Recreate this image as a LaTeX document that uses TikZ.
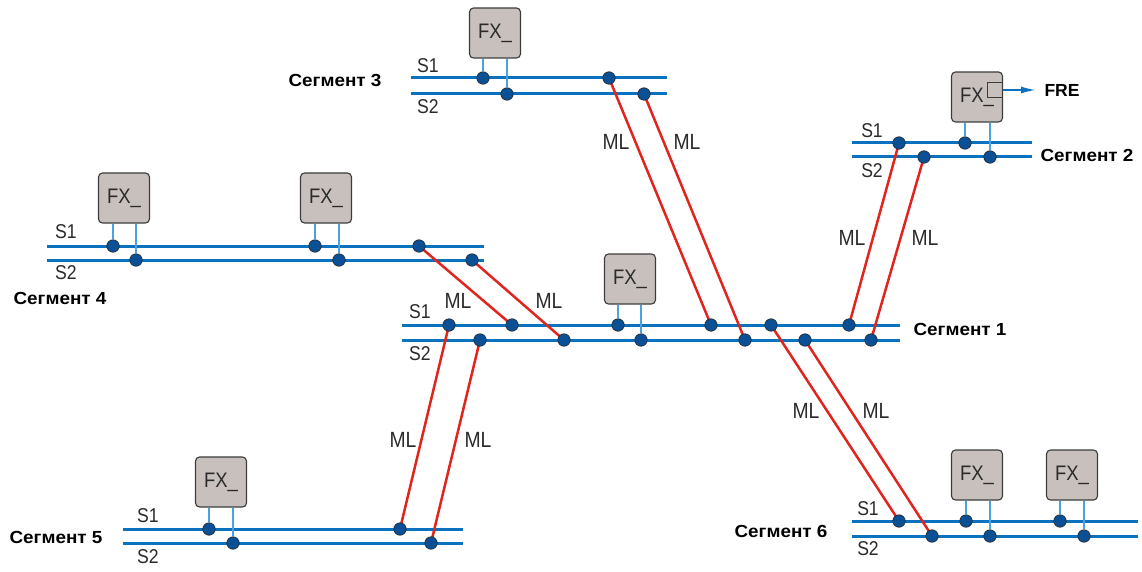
\documentclass[tikz,border=0pt]{standalone}
\usepackage{fontspec}
\setmainfont{Liberation Sans}
\newfontfamily\lightsans[FakeStretch=0.88]{Liberation Sans}
\newfontfamily\segfont[FakeStretch=1.08]{Liberation Sans Bold}
\usetikzlibrary{arrows.meta}
\definecolor{busblue}{HTML}{0A72BE}
\definecolor{dotblue}{HTML}{0B4F94}
\definecolor{linkblue}{HTML}{4AA3DC}
\definecolor{mlred}{HTML}{E0251E}
\definecolor{boxgray}{HTML}{C8C0BD}
\definecolor{boxedge}{HTML}{3C3C3C}
\definecolor{txtgray}{HTML}{2A2A2A}
\tikzset{
  bus/.style={busblue, line width=3pt},
  tap/.style={circle, fill=dotblue, draw=black!85, line width=0.6pt, inner sep=0pt, minimum size=12.5pt},
  fxbox/.style={draw=boxedge, fill=boxgray, rounded corners=4pt, line width=1.1pt, minimum width=51pt, minimum height=50pt, inner sep=0pt, font=\lightsans\fontsize{21}{21}\selectfont, text=txtgray},
  link/.style={linkblue, line width=1.2pt},
  mlline/.style={mlred, line width=2.5pt},
  lbl/.style={inner sep=0pt, font=\lightsans\fontsize{20}{20}\selectfont, text=txtgray},
  mllbl/.style={inner sep=0pt, font=\lightsans\fontsize{22}{22}\selectfont, text=txtgray},
  seglbl/.style={inner sep=0pt, font=\segfont\fontsize{17.5}{17.5}\selectfont},
}
\begin{document}
\begin{tikzpicture}[x=1pt,y=-1pt]
\useasboundingbox (0,0) rectangle (1142,572);

% ---------- bus end coordinates ----------
\coordinate (b3a1) at (411,78);  \coordinate (b3a2) at (667,78);
\coordinate (b3b1) at (411,94);  \coordinate (b3b2) at (667,94);
\coordinate (b2a1) at (852,143); \coordinate (b2a2) at (1032,143);
\coordinate (b2b1) at (852,157); \coordinate (b2b2) at (1032,157);
\coordinate (b4a1) at (47,246);  \coordinate (b4a2) at (484,246);
\coordinate (b4b1) at (47,260);  \coordinate (b4b2) at (484,260);
\coordinate (b1a1) at (402,325); \coordinate (b1a2) at (900,325);
\coordinate (b1b1) at (402,340); \coordinate (b1b2) at (900,340);
\coordinate (b5a1) at (123,529); \coordinate (b5a2) at (463,529);
\coordinate (b5b1) at (123,543); \coordinate (b5b2) at (463,543);
\coordinate (b6a1) at (852,521); \coordinate (b6a2) at (1138,521);
\coordinate (b6b1) at (852,536); \coordinate (b6b2) at (1138,536);

\foreach \s in {3,2,4,1,5,6}{
  \draw[bus] (b\s a1) -- (b\s a2);
  \draw[bus] (b\s b1) -- (b\s b2);
}

% ---------- tap positions ----------
\coordinate (d3a1) at (483,78);  \coordinate (d3a2) at (609,78);
\coordinate (d3b1) at (507,94);  \coordinate (d3b2) at (644,94);
\coordinate (d2a1) at (899,143); \coordinate (d2a2) at (965,143);
\coordinate (d2b1) at (924,157); \coordinate (d2b2) at (990,157);
\coordinate (d4a1) at (113,246); \coordinate (d4a2) at (315,246); \coordinate (d4a3) at (419,246);
\coordinate (d4b1) at (136,260); \coordinate (d4b2) at (339,260); \coordinate (d4b3) at (472,260);
\coordinate (d1a1) at (449,325); \coordinate (d1a2) at (512,325); \coordinate (d1a3) at (618,325);
\coordinate (d1a4) at (711,325); \coordinate (d1a5) at (771,325); \coordinate (d1a6) at (849,325);
\coordinate (d1b1) at (480,340); \coordinate (d1b2) at (564,340); \coordinate (d1b3) at (641,340);
\coordinate (d1b4) at (745,340); \coordinate (d1b5) at (805,340); \coordinate (d1b6) at (871,340);
\coordinate (d5a1) at (209,529); \coordinate (d5a2) at (400,529);
\coordinate (d5b1) at (233,543); \coordinate (d5b2) at (431,543);
\coordinate (d6a1) at (899,521); \coordinate (d6a2) at (966,521); \coordinate (d6a3) at (1060,521);
\coordinate (d6b1) at (932,536); \coordinate (d6b2) at (990,536); \coordinate (d6b3) at (1084,536);

% ---------- ML links ----------
\draw[mlline] (d3a2) -- (d1a4);
\draw[mlline] (d3b2) -- (d1b4);
\draw[mlline] (d2a1) -- (d1a6);
\draw[mlline] (d2b1) -- (d1b6);
\draw[mlline] (d4a3) -- (d1a2);
\draw[mlline] (d4b3) -- (d1b2);
\draw[mlline] (d1a1) -- (d5a2);
\draw[mlline] (d1b1) -- (d5b2);
\draw[mlline] (d1a5) -- (d6a1);
\draw[mlline] (d1b5) -- (d6b1);

% ---------- tap dots on top ----------
\foreach \d in {d3a1,d3a2,d3b1,d3b2,d2a1,d2a2,d2b1,d2b2,d4a1,d4a2,d4a3,d4b1,d4b2,d4b3,
                d1a1,d1a2,d1a3,d1a4,d1a5,d1a6,d1b1,d1b2,d1b3,d1b4,d1b5,d1b6,
                d5a1,d5a2,d5b1,d5b2,d6a1,d6a2,d6a3,d6b1,d6b2,d6b3}{
  \node[tap] (t\d) at (\d) {};
}

% ---------- FX boxes ----------
\node[fxbox] (fx3) at (495,33) {FX\_};
\node[fxbox] (fx2) at (977,97) {FX\_};
\node[fxbox] (fx4a) at (124,198) {FX\_};
\node[fxbox] (fx4b) at (326,198) {FX\_};
\node[fxbox] (fx1) at (630,279) {FX\_};
\node[fxbox] (fx5) at (221,482) {FX\_};
\node[fxbox] (fx6a) at (977,475) {FX\_};
\node[fxbox] (fx6b) at (1072,475) {FX\_};

\foreach \b/\p/\q in {fx3/d3a1/d3b1, fx2/d2a2/d2b2, fx4a/d4a1/d4b1, fx4b/d4a2/d4b2, fx1/d1a3/d1b3, fx5/d5a1/d5b1, fx6a/d6a2/d6b2, fx6b/d6a3/d6b3}{
  \draw[link] (\b.south -| \p) -- (t\p.north);
  \draw[link] (\b.south -| \q) -- (t\q.north);
}

% FRE output
\node[draw=boxedge, line width=1pt, minimum size=15pt, inner sep=0pt, anchor=north east] (sq) at (1003,82) {};
\node[inner sep=0pt, font=\bfseries\fontsize{17.5}{17.5}\selectfont] (fre) at (1062,90) {FRE};
\coordinate (freend) at (1036,90);
\draw[busblue, line width=1.8pt, -{Latex[length=15pt,width=7pt]}] (sq.east) -- (sq.east -| freend);

% ---------- bus labels ----------
\node[lbl] (l3a) at (428,66) {S1};
\node[lbl] (l3b) at (428,107) {S2};
\node[lbl] (l2a) at (872,131) {S1};
\node[lbl] (l2b) at (872,171) {S2};
\node[lbl] (l4a) at (66,232) {S1};
\node[lbl] (l4b) at (66,273) {S2};
\node[lbl] (l1a) at (420,312) {S1};
\node[lbl] (l1b) at (420,354) {S2};
\node[lbl] (l5a) at (148,516) {S1};
\node[lbl] (l5b) at (148,557) {S2};
\node[lbl] (l6a) at (868,509) {S1};
\node[lbl] (l6b) at (868,549) {S2};

% ---------- segment names ----------
\node[seglbl] (n3) at (335,80) {Сегмент 3};
\node[seglbl] (n2) at (1087,155) {Сегмент 2};
\node[seglbl] (n4) at (60,298) {Сегмент 4};
\node[seglbl] (n1) at (960,329) {Сегмент 1};
\node[seglbl] (n5) at (56,537) {Сегмент 5};
\node[seglbl] (n6) at (781,531) {Сегмент 6};

% ---------- ML labels ----------
\node[mllbl] (m1) at (616,142) {ML};
\node[mllbl] (m2) at (687,142) {ML};
\node[mllbl] (m3) at (852,238) {ML};
\node[mllbl] (m4) at (925,238) {ML};
\node[mllbl] (m5) at (458,301) {ML};
\node[mllbl] (m6) at (549,301) {ML};
\node[mllbl] (m7) at (403,440) {ML};
\node[mllbl] (m8) at (478,440) {ML};
\node[mllbl] (m9) at (806,411) {ML};
\node[mllbl] (m10) at (876,411) {ML};
\end{tikzpicture}
\end{document}
